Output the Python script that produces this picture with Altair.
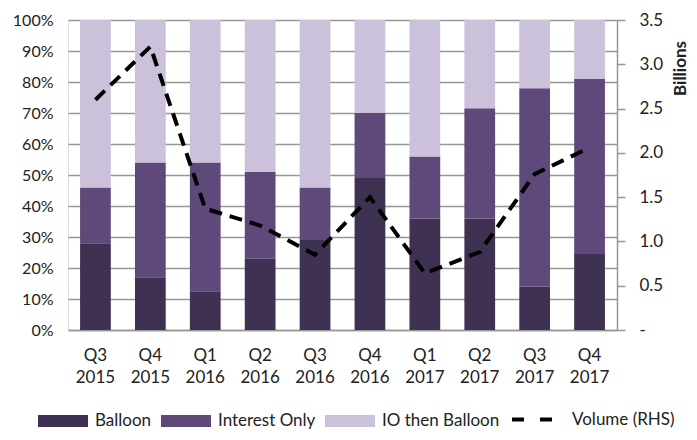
import altair as alt
import pandas as pd

quarters = ["Q3 2015", "Q4 2015", "Q1 2016", "Q2 2016", "Q3 2016",
            "Q4 2016", "Q1 2017", "Q2 2017", "Q3 2017", "Q4 2017"]
series_names = ["Balloon", "Interest Only", "IO then Balloon"]
balloon = [28, 17, 12.5, 23, 29, 49, 36, 36, 14, 24.5]
interest_only = [18, 37, 41.5, 28, 17, 21, 20, 35.5, 64, 56.5]
io_then_balloon = [54, 46, 46, 49, 54, 30, 44, 28.5, 22, 19]
volume = [2.60, 3.20, 1.37, 1.18, 0.85, 1.50, 0.64, 0.88, 1.76, 2.06]
colors = ["#3f3151", "#5f497a", "#ccc1da"]

rows = []
for i, q in enumerate(quarters):
    for k, (name, vals) in enumerate(zip(series_names, [balloon, interest_only, io_then_balloon])):
        rows.append({"quarter": q, "series": name, "ord": k, "share": vals[i] / 100.0})
bar_df = pd.DataFrame(rows)
vol_df = pd.DataFrame({"quarter": quarters, "volume": volume, "series": "Volume (RHS)"})

FONT = "Lato"
TXT = "#222222"
GRID = "#969696"
FS = 17

x_enc = alt.X(
    "quarter:N", sort=quarters,
    scale=alt.Scale(paddingInner=0.44, paddingOuter=0.22),
    axis=alt.Axis(title=None, labelExpr="split(datum.label, ' ')", labelAngle=0,
                  ticks=False, domainColor=GRID, domainWidth=1.5, labelPadding=17,
                  labelLineHeight=22, labelFontSize=FS, labelFont=FONT, labelColor=TXT),
)

bars = alt.Chart(bar_df).mark_bar().encode(
    x=x_enc,
    y=alt.Y("share:Q", stack="zero",
            scale=alt.Scale(domain=[0, 1], nice=False),
            axis=alt.Axis(title=None, format=".0%",
                          values=[0, 0.1, 0.2, 0.3, 0.4, 0.5, 0.6, 0.7, 0.8, 0.9, 1.0],
                          domain=False, ticks=False, labelPadding=15,
                          gridColor=GRID, gridWidth=1.5,
                          labelFontSize=16, labelFont=FONT, labelColor=TXT)),
    color=alt.Color("series:N",
                    scale=alt.Scale(domain=series_names, range=colors),
                    legend=alt.Legend(title=None, orient="none", legendX=-30, legendY=376,
                                      direction="horizontal", columns=3,
                                      symbolType="M-1,-0.24L1,-0.24L1,0.24L-1,0.24Z",
                                      symbolSize=2500, symbolStrokeWidth=0, symbolOpacity=1,
                                      labelOffset=7, columnPadding=9,
                                      labelFontSize=FS, labelFont=FONT, labelColor=TXT)),
    order=alt.Order("ord:Q", sort="ascending"),
)

line = alt.Chart(vol_df).mark_line(strokeDash=[13, 8], strokeWidth=4).encode(
    x=alt.X("quarter:N", sort=quarters),
    y=alt.Y("volume:Q",
            scale=alt.Scale(domain=[0, 3.5], nice=False),
            axis=alt.Axis(orient="right", title="Billions",
                          values=[0, 0.5, 1.0, 1.5, 2.0, 2.5, 3.0, 3.5],
                          labelExpr="datum.value == 0 ? '-' : format(datum.value, '.1f')",
                          grid=False, tickSize=8, tickColor=GRID, tickWidth=1.5,
                          domainColor=GRID, domainWidth=1.5, labelPadding=14,
                          labelFontSize=FS, labelFont=FONT, labelColor=TXT,
                          titleAngle=270, titleX=63, titleY=48, titleAlign="center",
                          titleBaseline="middle", titleFontWeight="bold",
                          titleFontSize=17, titleFont=FONT, titleColor=TXT)),
    stroke=alt.Stroke("series:N",
                      scale=alt.Scale(domain=["Volume (RHS)"], range=["black"]),
                      legend=alt.Legend(title=None, orient="none", legendX=442, legendY=376,
                                        symbolType="stroke", symbolSize=1849,
                                        symbolStrokeWidth=4, symbolDash=[12, 16],
                                        labelOffset=15, labelFontSize=FS,
                                        labelFont=FONT, labelColor=TXT)),
)

chart = alt.layer(bars, line).resolve_scale(y="independent", color="independent").properties(
    width=549, height=310,
    padding={"left": 60, "top": 12, "right": 72, "bottom": 102},
    autosize=alt.AutoSizeParams(type="none"),
).configure_view(stroke=None).configure(font=FONT)

chart.save("out.html", embed_options={"renderer": "svg", "actions": False})
